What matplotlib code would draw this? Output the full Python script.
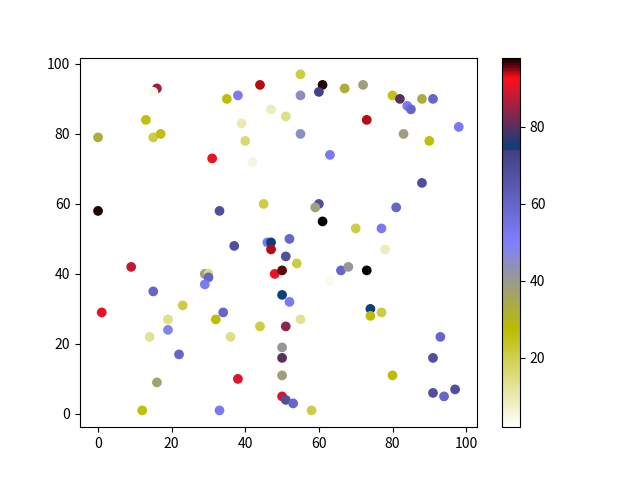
import matplotlib
matplotlib.use("Agg")
import matplotlib.pyplot as plt

plt.rcParams['font.family'] = ['Noto Sans CJK SC', 'DejaVu Sans']

xs = [16, 15, 44, 35, 38, 47, 13, 39, 0, 15,
      17, 40, 31, 42, 0, 33, 45, 37, 46, 47,
      55, 61, 60, 55, 67, 72, 80, 82, 84, 85,
      88, 91, 51, 73, 98, 55, 83, 90, 63, 88,
      60, 59, 81, 61, 70, 77, 52, 47, 9, 48,
      50, 29, 30, 30, 29, 15, 1, 23, 19, 34,
      32, 44, 14, 19, 36, 25, 22, 16, 38, 12,
      33, 78, 51, 54, 66, 68, 73, 63, 50, 52,
      74, 74, 77, 55, 51, 50, 50, 50, 50, 51,
      53, 58, 80, 93, 91, 91, 94, 97]

ys = [93, 92, 94, 90, 91, 87, 84, 83, 79, 79,
      80, 78, 73, 72, 58, 58, 60, 48, 49, 49,
      97, 94, 92, 91, 93, 94, 91, 90, 88, 87,
      90, 90, 85, 84, 82, 80, 80, 78, 74, 66,
      60, 59, 59, 55, 53, 53, 50, 47, 42, 40,
      41, 40, 40, 39, 37, 35, 29, 31, 27, 29,
      27, 25, 22, 24, 22, 21, 17, 9, 10, 1,
      1, 47, 45, 43, 41, 42, 41, 38, 34, 32,
      30, 28, 29, 27, 25, 19, 16, 11, 5, 4,
      3, 1, 11, 22, 16, 6, 5, 7]

vals = [85, 4, 94, 27, 52, 9, 26, 10, 33, 21,
        26, 16, 91, 5, 97, 68, 21, 68, 52, 74,
        21, 97, 73, 45, 33, 38, 25, 80, 52, 60,
        33, 60, 14, 94, 52, 45, 38, 26, 52, 68,
        68, 38, 60, 98, 21, 52, 60, 94, 88, 91,
        96, 38, 16, 60, 52, 60, 91, 21, 14, 60,
        27, 21, 13, 48, 14, 2, 60, 37, 90, 26,
        52, 9, 68, 21, 60, 41, 98, 4, 74, 52,
        74, 27, 21, 13, 84, 41, 80, 38, 89, 68,
        60, 21, 27, 60, 68, 68, 60, 68]

fig, ax = plt.subplots(figsize=(6.4, 4.8), dpi=100)
sc = ax.scatter(xs, ys, c=vals, cmap="gist_stern_r")
plt.colorbar(sc)
plt.savefig("out.png", dpi=100)
